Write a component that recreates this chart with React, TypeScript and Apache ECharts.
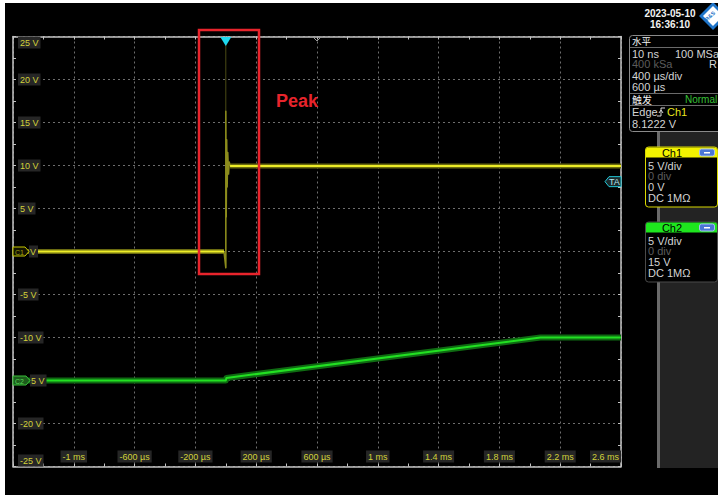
import { useEffect, useRef } from 'react';
import * as echarts from 'echarts';

// ---- data (time in µs, voltage in displayed V) ----
const timeMin = -1400;
const timeMax = 2600;
const timeStep = 400;
const voltMin = -25;
const voltMax = 25;
const voltStep = 5;

const ch1Before = [[-1400, 0], [-12, 0]];
const ch1Edge = [[-12, 0], [0, -1.9], [0, 16.3], [3, 4], [6, 13], [9, 7.5], [13, 11.5], [18, 9], [23, 10.4], [28, 9.95]];
const ch1Faint = [[0, -1.9], [0, 24.2]];
const ch1After = [[28, 9.95], [2600, 9.95]];
const ch2Trace = [[-1400, -15], [0, -15], [4, -14.7], [2070, -10], [2600, -10]];

const ch1Offset = 0;
const ch2Offset = -15;
const triggerTime = 0;
const triggerLevel = 8.1222;
const horizPosition = 600;

const dateText = '2023-05-10';
const timeText = '16:36:10';
const horizRows = ['10 ns', '400 kSa', '400 µs/div', '600 µs'];
const ch1Rows = ['5 V/div', '0 div', '0 V', 'DC 1MΩ'];
const ch2Rows = ['5 V/div', '0 div', '15 V', 'DC 1MΩ'];
// parts of the offset labels left visible beside the channel markers
const ch1MarkerTail = 'V';
const ch2MarkerTail = '5 V';

const FONT = '"Liberation Sans", Arial, sans-serif';
const CJK = '"Noto Sans CJK SC", "Liberation Sans", sans-serif';

function fmtTime(v: number): string {
  if (Math.abs(v) >= 1000) return `${+(v / 1000).toFixed(1)} ms`;
  return `${v} µs`;
}

const borderColor = '#c4c4c4';

export default function App() {
  const ref = useRef<HTMLDivElement>(null);
  useEffect(() => {
    if (!ref.current) return;
    const chart = echarts.init(ref.current, undefined, { renderer: 'svg' });
    const gridL = 13, gridT = 36.5, gridW = 608, gridH = 430;

    const labelStyle = {
      color: '#d2d23a',
      fontSize: 9,
      fontFamily: FONT,
      backgroundColor: '#262626',
      padding: [2, 2, 1, 2],
    };

    const xBase = {
      type: 'value' as const,
      min: timeMin,
      max: timeMax,
      interval: timeStep,
      axisLine: { show: true, onZero: false, lineStyle: { color: borderColor, width: 1.5 } },
      axisTick: { show: true, inside: true, length: 3, lineStyle: { color: borderColor } },
      minorTick: { show: true, splitNumber: 2, length: 3, lineStyle: { color: borderColor } },
    };
    const yBase = {
      type: 'value' as const,
      min: voltMin,
      max: voltMax,
      interval: voltStep,
      axisLine: { show: true, onZero: false, lineStyle: { color: borderColor, width: 1.5 } },
      axisTick: { show: true, inside: true, length: 3, lineStyle: { color: borderColor } },
      minorTick: { show: true, splitNumber: 2, length: 3, lineStyle: { color: borderColor } },
    };

    const line = (data: number[][], color: string, width: number, opacity = 1, z = 2) => ({
      type: 'line',
      data,
      symbol: 'none',
      showSymbol: false,
      silent: true,
      z,
      lineStyle: { color, width, opacity, cap: 'butt', join: 'round' },
    });

    chart.setOption({
      animation: false,
      backgroundColor: '#000000',
      grid: { left: gridL, top: gridT, width: gridW, height: gridH, containLabel: false },
      xAxis: [
        {
          ...xBase,
          position: 'bottom',
          splitLine: { show: true, lineStyle: { color: '#6e6e6e', type: [2, 3], width: 1 } },
          axisLabel: {
            ...labelStyle,
            inside: true,
            margin: 4,
            showMinLabel: false,
            showMaxLabel: true,
            alignMaxLabel: 'right',
            formatter: (v: number) => (v === timeMin ? '' : fmtTime(v)),
          },
        },
        {
          ...xBase,
          position: 'top',
          splitLine: { show: false },
          axisLabel: { show: false },
        },
      ],
      yAxis: [
        {
          ...yBase,
          position: 'left',
          splitLine: { show: true, lineStyle: { color: '#6e6e6e', type: [2, 3], width: 1 } },
          axisLabel: {
            ...labelStyle,
            inside: true,
            margin: 5,
            verticalAlignMaxLabel: 'top',
            verticalAlignMinLabel: 'bottom',
            // labels at the channel offsets are hidden under the channel markers
            formatter: (v: number) => (v === ch1Offset || v === ch2Offset ? '' : `${v} V`),
          },
        },
        {
          ...yBase,
          position: 'right',
          splitLine: { show: false },
          axisLabel: { show: false },
        },
      ],
      series: [
        line(ch2Trace, '#0f6a12', 6, 1, 2),
        line(ch2Trace, '#22e022', 2, 1, 3),
        line(ch1Faint, '#4a4a14', 1, 1, 2),
        line(ch1Edge, '#8c8c1c', 1.5, 1, 3),
        line(ch1Before, '#6a6a10', 5, 1, 2),
        line(ch1Before, '#ecec28', 2, 1, 3),
        line(ch1After, '#6a6a10', 5, 1, 2),
        line(ch1After, '#ecec28', 2, 1, 3),
      ],
    });

    const px = (t: number, v: number) =>
      chart.convertToPixel({ xAxisIndex: 0, yAxisIndex: 0 }, [t, v]) as number[];
    const c1 = px(timeMin, ch1Offset);
    const c2 = px(timeMin, ch2Offset);
    const trig = px(triggerTime, voltMax);
    const hpos = px(horizPosition, voltMax);
    const ta = px(timeMax, triggerLevel);

    const txt = (x: number, y: number, text: string, fill: string, fontSize = 11, extra: any = {}) => ({
      type: 'text',
      x,
      y,
      silent: true,
      z: 20,
      style: { text, fill, fontSize, fontFamily: FONT, verticalAlign: 'middle', ...extra },
    });

    const chBox = (top: number, title: string, headColor: string, border: string, rows: string[]) => {
      const els: any[] = [
        { type: 'rect', z: 15, shape: { x: 645.5, y: top + 0.5, width: 72, height: 60, r: 3 }, style: { fill: '#000', stroke: border, lineWidth: 1 } },
        { type: 'rect', z: 16, shape: { x: 646, y: top + 1, width: 71, height: 10, r: [2, 2, 0, 0] }, style: { fill: headColor } },
        txt(672, top + 6.5, title, '#000', 11, { align: 'center' }),
        { type: 'rect', z: 21, shape: { x: 699.5, y: top + 2.5, width: 15, height: 7, r: 2 }, style: { fill: '#4a76d6', stroke: '#a8c0f0', lineWidth: 1 } },
        { type: 'rect', z: 22, shape: { x: 704, y: top + 5.5, width: 6, height: 1.5 }, style: { fill: '#fff' } },
      ];
      rows.forEach((r, i) => {
        els.push(txt(648, top + 19 + i * 10.7, r, i === 1 ? '#5c5c5c' : '#d4d4d4', 11));
      });
      return els;
    };

    const pent = (x: number, y: number, w: number, stroke: string, fill: string) => ({
      type: 'polygon',
      z: 18,
      shape: { points: [[x, y - 4.5], [x + w, y - 4.5], [x + w + 4, y], [x + w, y + 4.5], [x, y + 4.5]] },
      style: { fill, stroke, lineWidth: 1 },
    });

    const tail = (x: number, y: number, text: string) => ({
      type: 'text',
      x,
      y,
      z: 17,
      silent: true,
      style: {
        text,
        fill: '#d2d23a',
        fontSize: 9,
        fontFamily: FONT,
        verticalAlign: 'middle',
        backgroundColor: '#262626',
        padding: [2, 2, 1, 1],
      },
    });

    const graphic: any[] = [
      // page edges
      { type: 'rect', z: 30, shape: { x: 0, y: 0, width: 5, height: 495 }, style: { fill: '#fff' } },
      { type: 'rect', z: 30, shape: { x: 0, y: 0, width: 718, height: 3 }, style: { fill: '#fff' } },
      // right gray panel
      { type: 'rect', z: 10, shape: { x: 657, y: 132, width: 61, height: 336 }, style: { fill: '#232323' } },
      { type: 'rect', z: 11, shape: { x: 657, y: 132, width: 3, height: 336 }, style: { fill: '#6a6a6a' } },
      // date/time
      txt(670, 13.5, dateText, '#f2f2f2', 10, { align: 'center', fontWeight: 'bold' }),
      txt(670, 24, timeText, '#f2f2f2', 10, { align: 'center', fontWeight: 'bold' }),
      // logo
      { type: 'polygon', z: 20, shape: { points: [[713, 2], [727, 16], [713, 30], [699, 16]] }, style: { fill: '#1f74c8' } },
      { type: 'polygon', z: 21, shape: { points: [[713, 6], [723, 16], [713, 26], [703, 16]] }, style: { fill: '#ffffff' } },
      { type: 'text', z: 22, x: 710, y: 16, rotation: Math.PI / 4, style: { text: 'R&S', fill: '#1f74c8', fontSize: 5.5, fontWeight: 'bold', fontFamily: FONT, align: 'center', verticalAlign: 'middle' } },
      // horizontal info box
      { type: 'rect', z: 15, shape: { x: 629.5, y: 35.5, width: 100, height: 96, r: 3 }, style: { fill: '#000', stroke: '#8a8a8a', lineWidth: 1 } },
      { type: 'line', z: 16, shape: { x1: 630, y1: 47.5, x2: 718, y2: 47.5 }, style: { stroke: '#6a6a6a', lineWidth: 1 } },
      { type: 'line', z: 16, shape: { x1: 630, y1: 93.5, x2: 718, y2: 93.5 }, style: { stroke: '#6a6a6a', lineWidth: 1 } },
      { type: 'line', z: 16, shape: { x1: 630, y1: 105.5, x2: 718, y2: 105.5 }, style: { stroke: '#6a6a6a', lineWidth: 1 } },
      txt(632, 40.5, '水平', '#f4f4f4', 9.5, { fontFamily: CJK, lineHeight: 10 }),
      txt(632, 53.5, horizRows[0], '#d4d4d4', 11, { lineHeight: 10 }),
      txt(675, 53.5, '100 MSa', '#d4d4d4', 11, { lineHeight: 10 }),
      txt(632, 64, horizRows[1], '#5c5c5c', 11, { lineHeight: 10 }),
      txt(709, 64, 'R', '#d4d4d4', 11, { lineHeight: 10 }),
      txt(632, 75.5, horizRows[2], '#d4d4d4', 11, { lineHeight: 10 }),
      txt(632, 87, horizRows[3], '#d4d4d4', 11, { lineHeight: 10 }),
      txt(632, 99.5, '触发', '#f4f4f4', 10, { fontFamily: CJK, lineHeight: 10 }),
      txt(685, 99.5, 'Normal', '#36c036', 10, { lineHeight: 10 }),
      txt(632, 112, 'Edge', '#d4d4d4', 11, { lineHeight: 10 }),
      { type: 'polyline', z: 20, shape: { points: [[657, 116], [661, 116], [661, 108], [665, 108]] }, style: { stroke: '#d4d4d4', lineWidth: 1, fill: null } },
      { type: 'polyline', z: 20, shape: { points: [[659, 113], [661, 110], [663, 113]] }, style: { stroke: '#d4d4d4', lineWidth: 1, fill: null } },
      txt(667, 112, 'Ch1', '#e6e61e', 11, { lineHeight: 10 }),
      txt(632, 124, '8.1222 V', '#d4d4d4', 11, { lineHeight: 10 }),
      // channel boxes
      ...chBox(146.5, 'Ch1', '#f2f200', '#d8d800', ch1Rows),
      ...chBox(221.5, 'Ch2', '#1ee61e', '#4a4a4a', ch2Rows),
      // annotation
      { type: 'rect', z: 25, shape: { x: 199, y: 30, width: 60, height: 244 }, style: { fill: null, stroke: '#e8242c', lineWidth: 2.5 } },
      txt(276, 101, 'Peak', '#e8242c', 18, { fontWeight: 'bold' }),
      // markers
      { type: 'polygon', z: 19, shape: { points: [[trig[0] - 5.5, trig[1] + 0.5], [trig[0] + 5.5, trig[1] + 0.5], [trig[0], trig[1] + 9.5]] }, style: { fill: '#1ed8ee' } },
      { type: 'polygon', z: 19, shape: { points: [[hpos[0] - 4, hpos[1] + 0.5], [hpos[0] + 4, hpos[1] + 0.5], [hpos[0], hpos[1] + 4.5]] }, style: { fill: null, stroke: '#9a9a9a', lineWidth: 1 } },
      { type: 'polygon', z: 19, shape: { points: [[ta[0] - 16, ta[1]], [ta[0] - 12, ta[1] - 5], [ta[0], ta[1] - 5], [ta[0], ta[1] + 5], [ta[0] - 12, ta[1] + 5]] }, style: { fill: '#1b2a2c', stroke: '#22c8d8', lineWidth: 1 } },
      txt(ta[0] - 12, ta[1] + 0.5, 'TA', '#b8e6ee', 9),
      tail(c1[0] + 16, c1[1], ch1MarkerTail),
      pent(c1[0], c1[1], 12, '#c8c800', '#141400'),
      txt(c1[0] + 2, c1[1] + 0.5, 'C1', '#a0a010', 7),
      tail(c2[0] + 17, c2[1], ch2MarkerTail),
      pent(c2[0], c2[1], 13, '#38c038', '#1c5c1c'),
      txt(c2[0] + 2, c2[1] + 0.5, 'C2', '#58d858', 7),
    ];

    chart.setOption({ graphic: { elements: graphic } });

    return () => chart.dispose();
  }, []);

  return (
    <div style={{ position: 'fixed', left: 0, top: 0, width: 718, height: 495, background: '#000' }}>
      <div ref={ref} style={{ width: 718, height: 495 }} />
    </div>
  );
}
